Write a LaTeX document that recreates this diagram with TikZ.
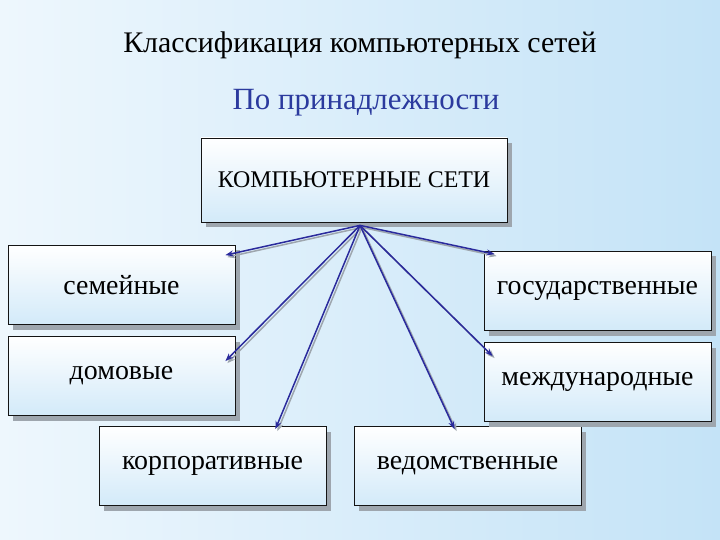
\documentclass[tikz,border=0pt]{standalone}
\usepackage{fontspec}
\setmainfont{Liberation Serif}
\usetikzlibrary{arrows.meta,positioning,calc,shadows}
\definecolor{netink}{HTML}{141414}
\definecolor{netblue}{HTML}{2A2A9C}
\definecolor{netsub}{HTML}{2B3A9E}
\definecolor{netsky}{HTML}{C4E3F7}
\definecolor{netpale}{HTML}{EEF7FD}
\definecolor{netshade}{HTML}{9EA6AE}
\tikzset{
  box/.style={draw=netink, line width=0.8pt, top color=white, bottom color=netsky!75, align=center,
    minimum width=227bp, minimum height=79bp, font=\fontsize{28}{32}\selectfont,
    drop shadow={shadow xshift=5bp, shadow yshift=-5bp, fill=netshade, opacity=1}},
  lnk/.style={-{Stealth[length=8bp,width=6bp]}, draw=netblue, line width=1.5pt,
    preaction={draw=netshade, line width=1.5pt, transform canvas={shift={(2bp,-2bp)}}}},
}

\begin{document}
\begin{tikzpicture}[x=1bp, y=-1bp]
    % background
    \fill[left color=netpale, right color=netsky] (0,0) rectangle (720,540);
    \useasboundingbox (0,0) rectangle (720,540);

    \node (title) at (360,45) {\fontsize{30}{34}\selectfont Классификация компьютерных сетей};
    \node[text=netsub] (sub) at (366,103) {\fontsize{31}{36}\selectfont По принадлежности};

    \node[box, minimum width=306bp, minimum height=84bp, font=\fontsize{24}{28}\selectfont] (top) at (354,180) {КОМПЬЮТЕРНЫЕ СЕТИ};
    \node[box] (fam)   at (121.5,285) {семейные};
    \node[box] (home)  at (121.5,376) {домовые};
    \node[box] (corp)  at (212.5,466) {корпоративные};
    \node[box] (dept)  at (467.5,466) {ведомственные};
    \node[box] (state) at (597.5,291) {государственные};
    \node[box] (intl)  at (597.5,382) {международные};

    % links
    \coordinate (hub) at ($(top.south)+(6,3)$);
    \draw[lnk] (hub) -- ($(fam.north east)+(-10,10)$);
    \draw[lnk] (hub) -- ($(home.north east)+(-10,25)$);
    \draw[lnk] (hub) -- ($(corp.north east)+(-51,3)$);
    \draw[lnk] (hub) -- ($(dept.north west)+(101,3)$);
    \draw[lnk] (hub) -- ($(state.north west)+(11,3)$);
    \draw[lnk] (hub) -- ($(intl.north west)+(9,14)$);
\end{tikzpicture}
\end{document}
